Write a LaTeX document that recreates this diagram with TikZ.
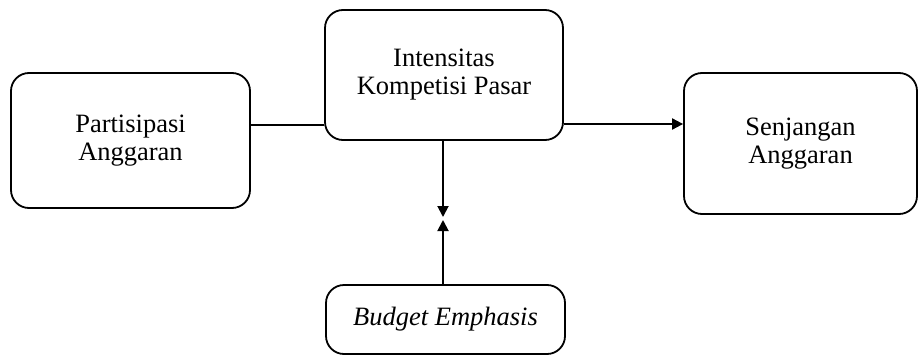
\documentclass[tikz,border=0pt]{standalone}
\usepackage{fontspec}
\setmainfont{Liberation Serif}
\usetikzlibrary{arrows.meta}
\begin{document}
\begin{tikzpicture}[x=1pt,y=-1pt,
  box/.style={draw,line width=1.8pt,rounded corners=18pt,inner sep=0pt,align=center,
    font=\fontsize{26.5}{28}\selectfont},
  conn/.style={line width=1.9pt},
  arr/.style={conn,-{Triangle[length=11pt,width=11pt]}}]
\useasboundingbox (0,0) rectangle (918,356);
\node[box,minimum width=239pt,minimum height=135pt] (pa) at (130.5,140.5) {Partisipasi\\Anggaran};
\node[box,minimum width=238pt,minimum height=130pt] (ik) at (444,75) {Intensitas\\Kompetisi Pasar};
\node[box,minimum width=233pt,minimum height=141pt] (sa) at (800.5,143.5) {Senjangan\\Anggaran};
\node[box,minimum width=239pt,minimum height=69pt] (be) at (445.5,319.5) {\itshape Budget Emphasis};
\coordinate (t1) at (443,217);
\coordinate (t2) at (443,220);
\draw[conn] (pa.east |- 0,125) -- (ik.west |- 0,125);
\draw[arr] (ik.east |- 0,124) -- (sa.west |- 0,124);
\draw[arr] (ik.south -| t1) -- (t1);
\draw[arr] (be.north -| t2) -- (t2);
\end{tikzpicture}
\end{document}
